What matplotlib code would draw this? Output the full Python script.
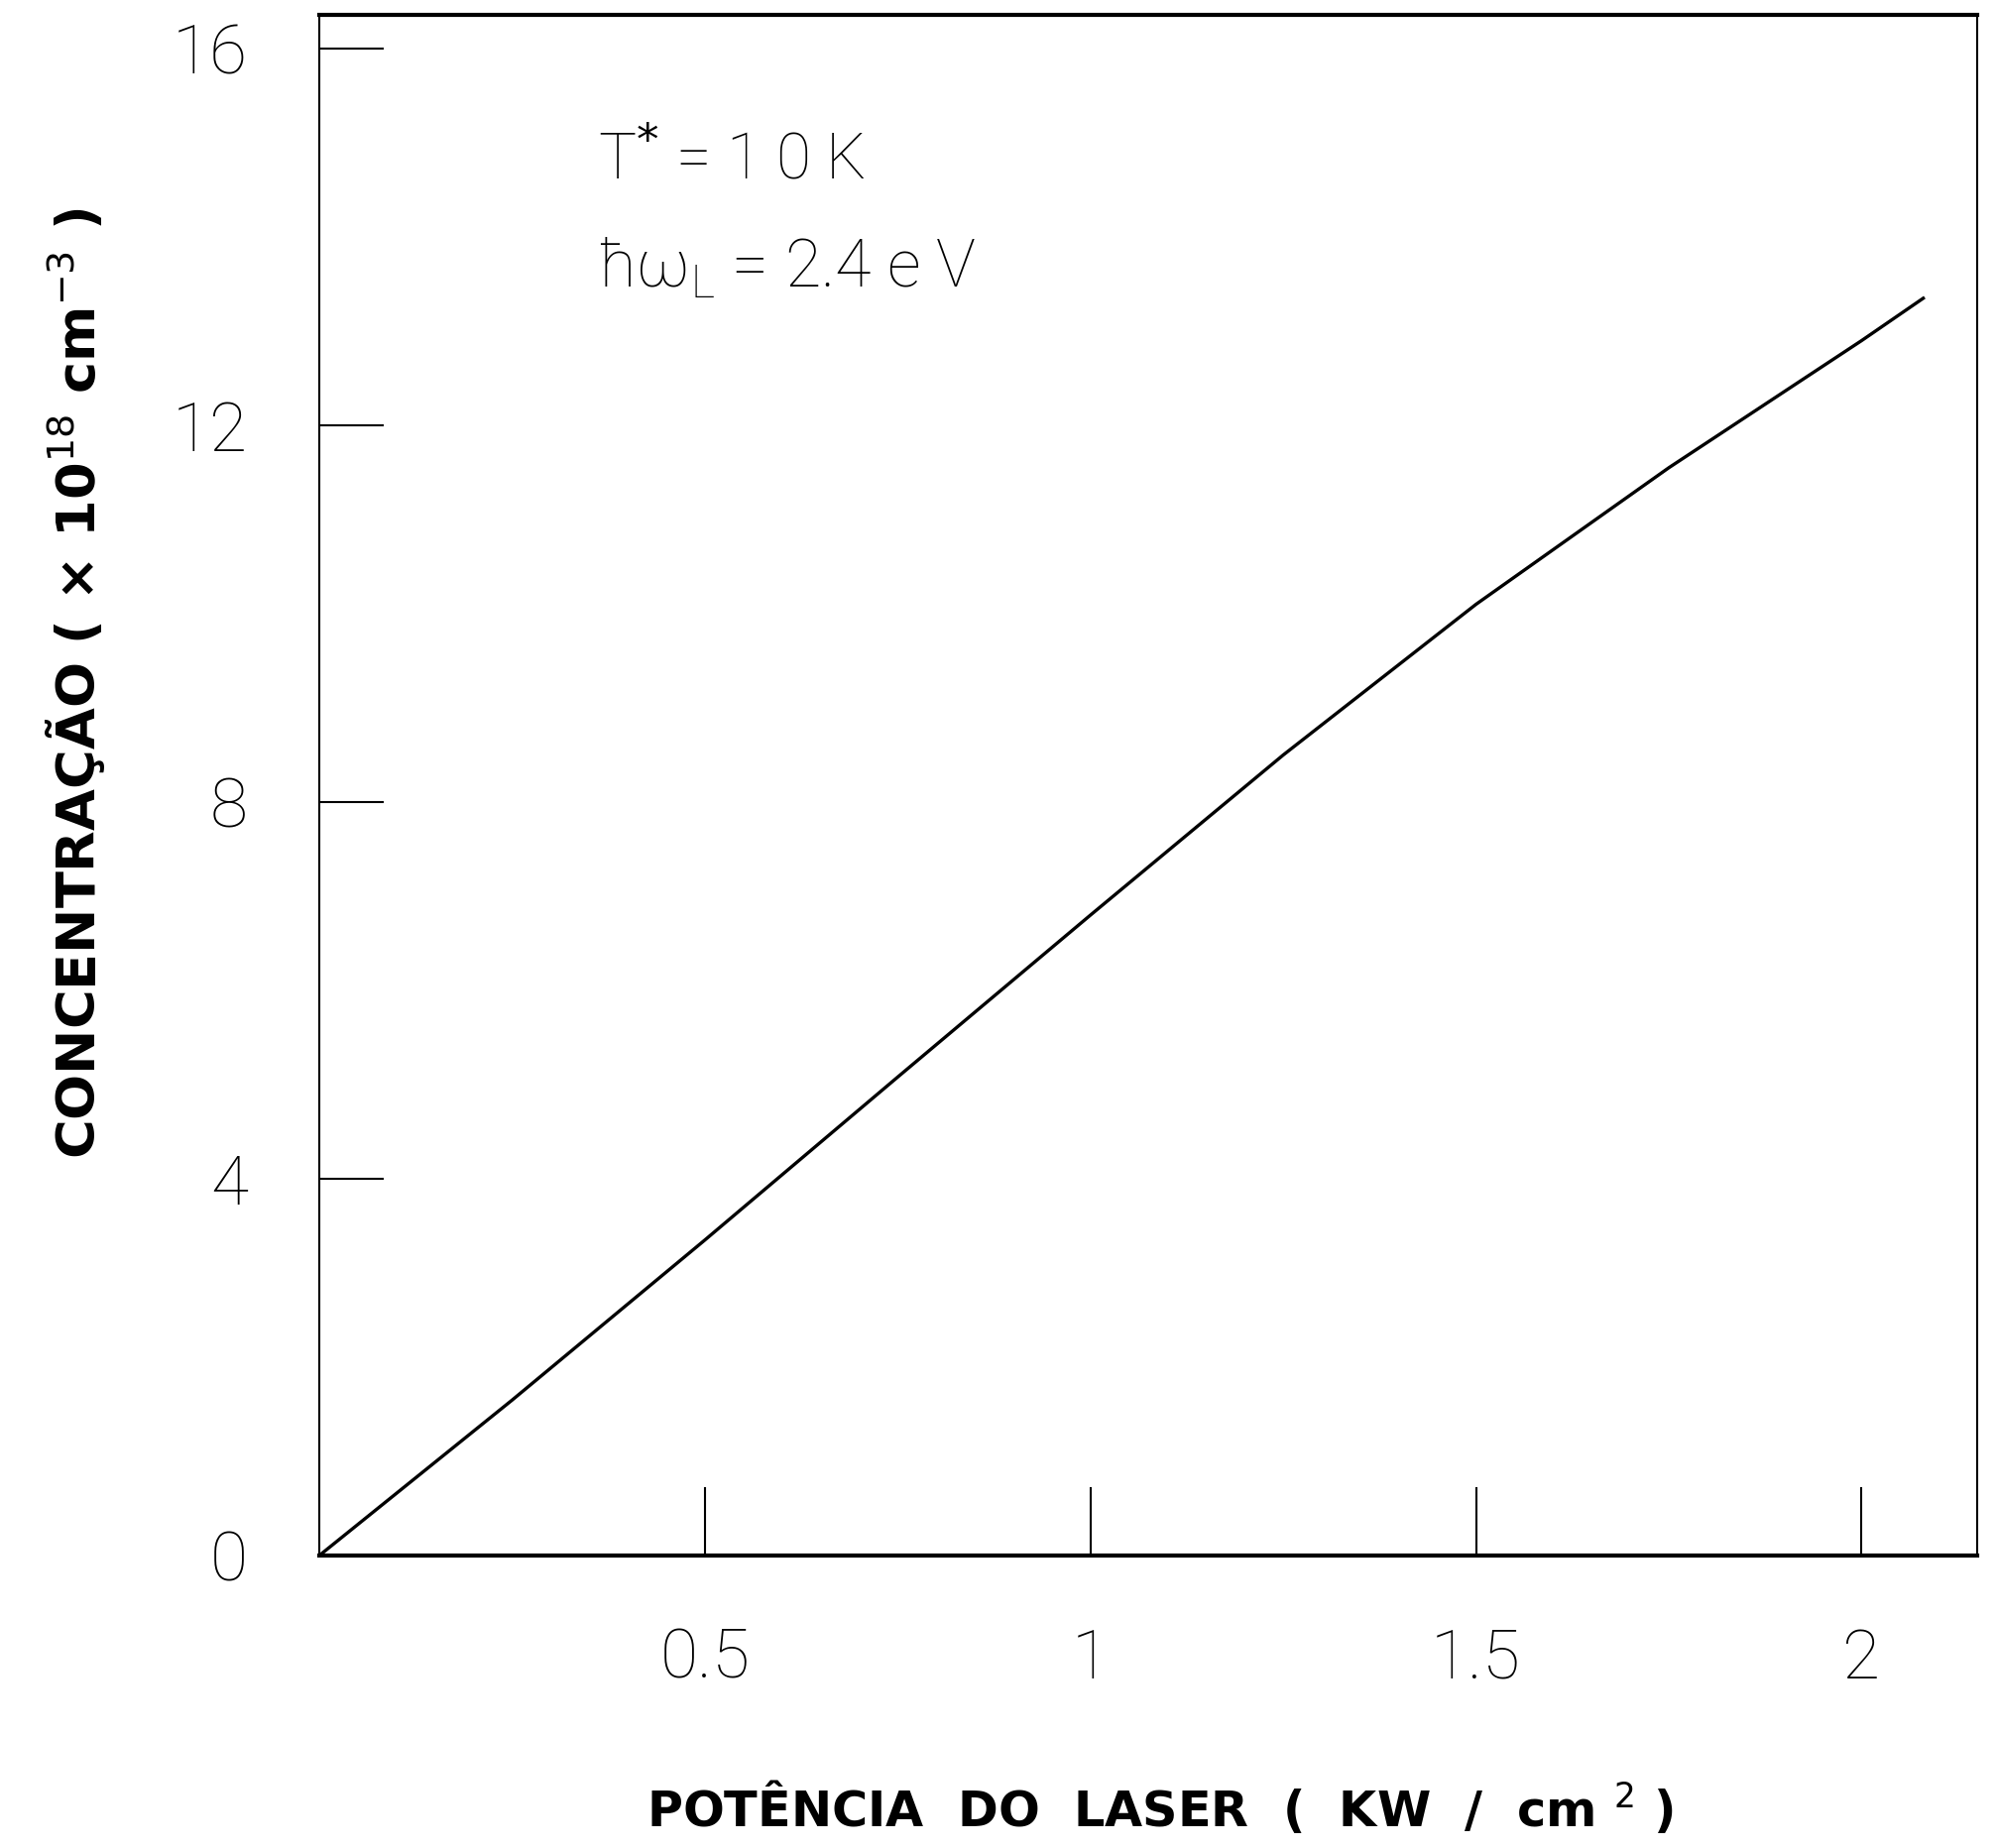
import numpy as np
import matplotlib
matplotlib.use("Agg")
import matplotlib.pyplot as plt

# values
potencia = [0.0, 0.25, 0.5, 0.75, 1.0, 1.25, 1.5, 1.75, 2.0, 2.08]          # KW / cm^2
concentracao = [0.0, 1.65, 3.35, 5.08, 6.8, 8.5, 10.1, 11.55, 12.9, 13.35]  # x 10^18 cm^-3

x_ticks = [0.5, 1.0, 1.5, 2.0]
x_ticklabels = ["0.5", "1", "1.5", "2"]
y_ticks = [0, 4, 8, 12, 16]
y_ticklabels = ["0", "4", "8", "12", "16"]

plt.rcParams['mathtext.fontset'] = 'dejavusans'
thin = dict(family=['Roboto', 'DejaVu Sans'], weight='light')

fig = plt.figure(figsize=(20.13, 18.64), dpi=100)
ax = fig.add_axes([0.16, 0.1583, 0.8306, 0.8337])

# the curve
ax.plot(potencia, concentracao, color='black', lw=2.4)

ax.set_xlim(0, 2.15)
ax.set_ylim(0, 16.36)

ax.set_xticks(x_ticks)
ax.set_xticklabels(x_ticklabels, fontdict=thin, fontsize=50)
ax.set_yticks(y_ticks)
ax.set_yticklabels(y_ticklabels, fontdict=thin, fontsize=50)
ax.tick_params(axis='x', direction='in', length=50, width=1.5, pad=52)
ax.tick_params(axis='y', direction='in', length=47, width=1.5, pad=52)

ax.spines['top'].set_linewidth(3)
ax.spines['bottom'].set_linewidth(3)
ax.spines['left'].set_linewidth(1.5)
ax.spines['right'].set_linewidth(1.5)

# parameters written inside the frame
ax.text(0.168, 0.905, "T$^{*}$ = 1 0 K", transform=ax.transAxes,
        fontsize=46, va='center', ha='left', **thin)
ax.text(0.168, 0.835, "ħω$_\\mathregular{L}$ = 2.4 e V", transform=ax.transAxes,
        fontsize=48, va='center', ha='left', **thin)

# axis labels
fig.text(0.038, 0.63, r"CONCENTRAÇÃO ( × 10$^{18}$ cm$^{-3}$ )", rotation=90,
         ha='center', va='center', fontsize=39, fontweight='bold',
         family='DejaVu Sans')
fig.text(0.581, 0.022, r"POTÊNCIA  DO  LASER  (  KW  /  cm $^{2}$ )",
         ha='center', va='center', fontsize=35.5, fontweight='bold',
         family='DejaVu Sans')

fig.savefig("out.png", dpi=100, facecolor='white')
